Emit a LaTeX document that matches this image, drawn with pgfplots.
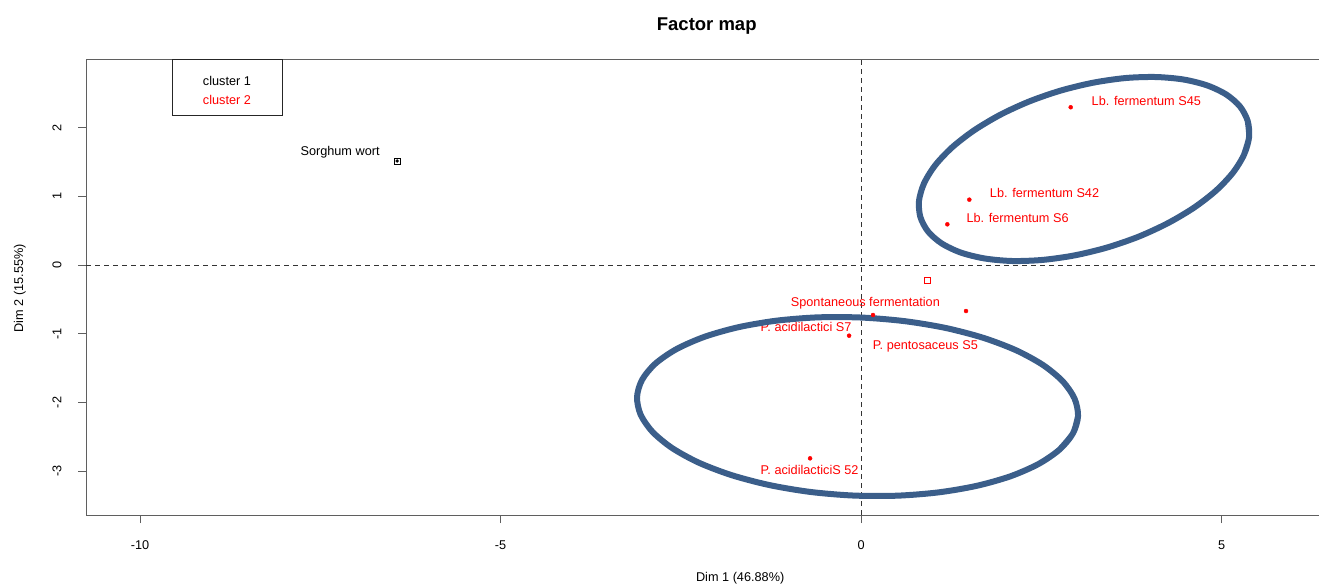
\documentclass[border=0pt]{standalone}
\usepackage{pgfplots}
\pgfplotsset{compat=1.18}
\usepackage{fontspec}
\setmainfont{Liberation Sans}
\definecolor{ellblue}{RGB}{59,94,138}
\definecolor{axgray}{RGB}{95,95,95}
\begin{document}
\begin{tikzpicture}[x=1pt,y=1pt]
\useasboundingbox (0,0) rectangle (1319,587);
\begin{axis}[
  at={(86pt,72pt)}, anchor=south west,
  scale only axis, width=1239pt, height=455.5pt,
  xmin=-10.75, xmax=6.435, ymin=-3.639, ymax=2.991,
  xtick={-10,-5,0,5}, ytick={-3,-2,-1,0,1,2},
  xtick pos=bottom, ytick pos=left,
  tick align=outside, major tick length=8pt,
  axis line style={axgray, line width=1pt},
  tick style={axgray, line width=0.8pt},
  /pgf/number format/assume math mode=true,
  tick label style={font=\fontsize{12.7}{15}\selectfont},
  xticklabel style={yshift=-14pt},
  yticklabel style={xshift=-13pt, rotate=90, anchor=south},
  every axis title shift=0pt,
  title={Factor map},
  title style={at={(axis description cs:0.501,1.0735)}, anchor=center, font=\bfseries\fontsize{18.5}{22}\selectfont},
  xlabel={Dim 1 (46.88\%)},
  xlabel style={at={(axis description cs:0.528,-0.138)}, anchor=center, font=\fontsize{12.7}{15}\selectfont},
  ylabel={Dim 2 (15.55\%)},
  ylabel style={at={(axis description cs:-0.0533,0.498)}, anchor=center, rotate=0, font=\fontsize{12.7}{15}\selectfont},
  clip=true,
]
% zero lines
\addplot[black!80, line width=0.7pt, dash pattern=on 5pt off 4pt] coordinates {(0,-3.639) (0,2.991)};
\addplot[black!80, line width=0.7pt, dash pattern=on 5pt off 4pt] coordinates {(-10.75,0) (6.435,0)};
% cluster 1 (Sorghum wort)
\addplot[only marks, mark=*, mark size=1.5pt, black] coordinates {(-6.435,1.514)};
\addplot[only marks, mark=square, mark size=3pt, black, mark options={line width=0.8pt}] coordinates {(-6.435,1.514)};
% cluster 2 individuals
\addplot[only marks, mark=*, mark size=2pt, red] coordinates {
 (2.908,2.296) (1.502,0.951) (1.197,0.592) (0.166,-0.728) (1.456,-0.670) (-0.166,-1.029) (-0.707,-2.814)};
% cluster 2 centre
\addplot[only marks, mark=square, mark size=3pt, red, mark options={line width=0.8pt}] coordinates {(0.915,-0.218)};
% labels
\node[font=\fontsize{12.7}{15}\selectfont, text=black] at (axis cs:-7.226,1.645) {Sorghum wort};
\node[font=\fontsize{12.7}{15}\selectfont, text=red] at (axis cs:3.957,2.387) {Lb. fermentum S45};
\node[font=\fontsize{12.7}{15}\selectfont, text=red] at (axis cs:2.545,1.052) {Lb. fermentum S42};
\node[font=\fontsize{12.7}{15}\selectfont, text=red] at (axis cs:2.171,0.689) {Lb. fermentum S6};
\node[font=\fontsize{12.7}{15}\selectfont, text=red] at (axis cs:0.060,-0.553) {Spontaneous fermentation};
\node[font=\fontsize{12.7}{15}\selectfont, text=red] at (axis cs:-0.763,-0.907) {P. acidilactici S7};
\node[font=\fontsize{12.7}{15}\selectfont, text=red] at (axis cs:0.892,-1.189) {P. pentosaceus S5};
\node[font=\fontsize{12.7}{15}\selectfont, text=red] at (axis cs:-0.714,-2.984) {P. acidilacticiS 52};
% ellipses
\addplot[ellblue, line width=6pt, smooth, line join=round] coordinates {
 (3.010,-2.199) (2.940,-2.449) (2.756,-2.684) (2.464,-2.895) (2.076,-3.074) (1.606,-3.214)
 (1.072,-3.310) (0.496,-3.358) (-0.102,-3.356) (-0.698,-3.304) (-1.268,-3.204) (-1.792,-3.060)
 (-2.249,-2.878) (-2.621,-2.664) (-2.894,-2.427) (-3.058,-2.176) (-3.107,-1.921) (-3.037,-1.671)
 (-2.853,-1.436) (-2.561,-1.225) (-2.173,-1.046) (-1.703,-0.906) (-1.169,-0.810) (-0.593,-0.762)
 (0.005,-0.765) (0.601,-0.817) (1.171,-0.916) (1.695,-1.060) (2.152,-1.242) (2.524,-1.456)
 (2.797,-1.693) (2.961,-1.944) (3.010,-2.199) (2.940,-2.449) (2.756,-2.684)};
\addplot[ellblue, line width=6pt, smooth, line join=round] coordinates {
 (5.363,2.096) (5.382,1.860) (5.312,1.605) (5.158,1.343) (4.924,1.083) (4.619,0.835)
 (4.256,0.609) (3.849,0.412) (3.412,0.254) (2.963,0.140) (2.519,0.074) (2.097,0.058)
 (1.714,0.095) (1.383,0.181) (1.118,0.314) (0.929,0.488) (0.823,0.698) (0.804,0.934)
 (0.874,1.189) (1.028,1.451) (1.262,1.711) (1.567,1.959) (1.930,2.186) (2.337,2.382)
 (2.774,2.540) (3.223,2.654) (3.667,2.721) (4.089,2.736) (4.472,2.700) (4.803,2.613)
 (5.068,2.480) (5.257,2.306) (5.363,2.096) (5.382,1.860) (5.312,1.605)};
% legend
\node[draw=black!85, line width=0.8pt, minimum width=110pt, minimum height=56pt, anchor=north west]
      at (axis description cs:0.0694,1) {};
\node[font=\fontsize{12.7}{19}\selectfont, align=center, anchor=center]
      at (axis description cs:0.1138,0.932) {cluster 1\\ \textcolor{red}{cluster 2}};
\end{axis}
\end{tikzpicture}
\end{document}
